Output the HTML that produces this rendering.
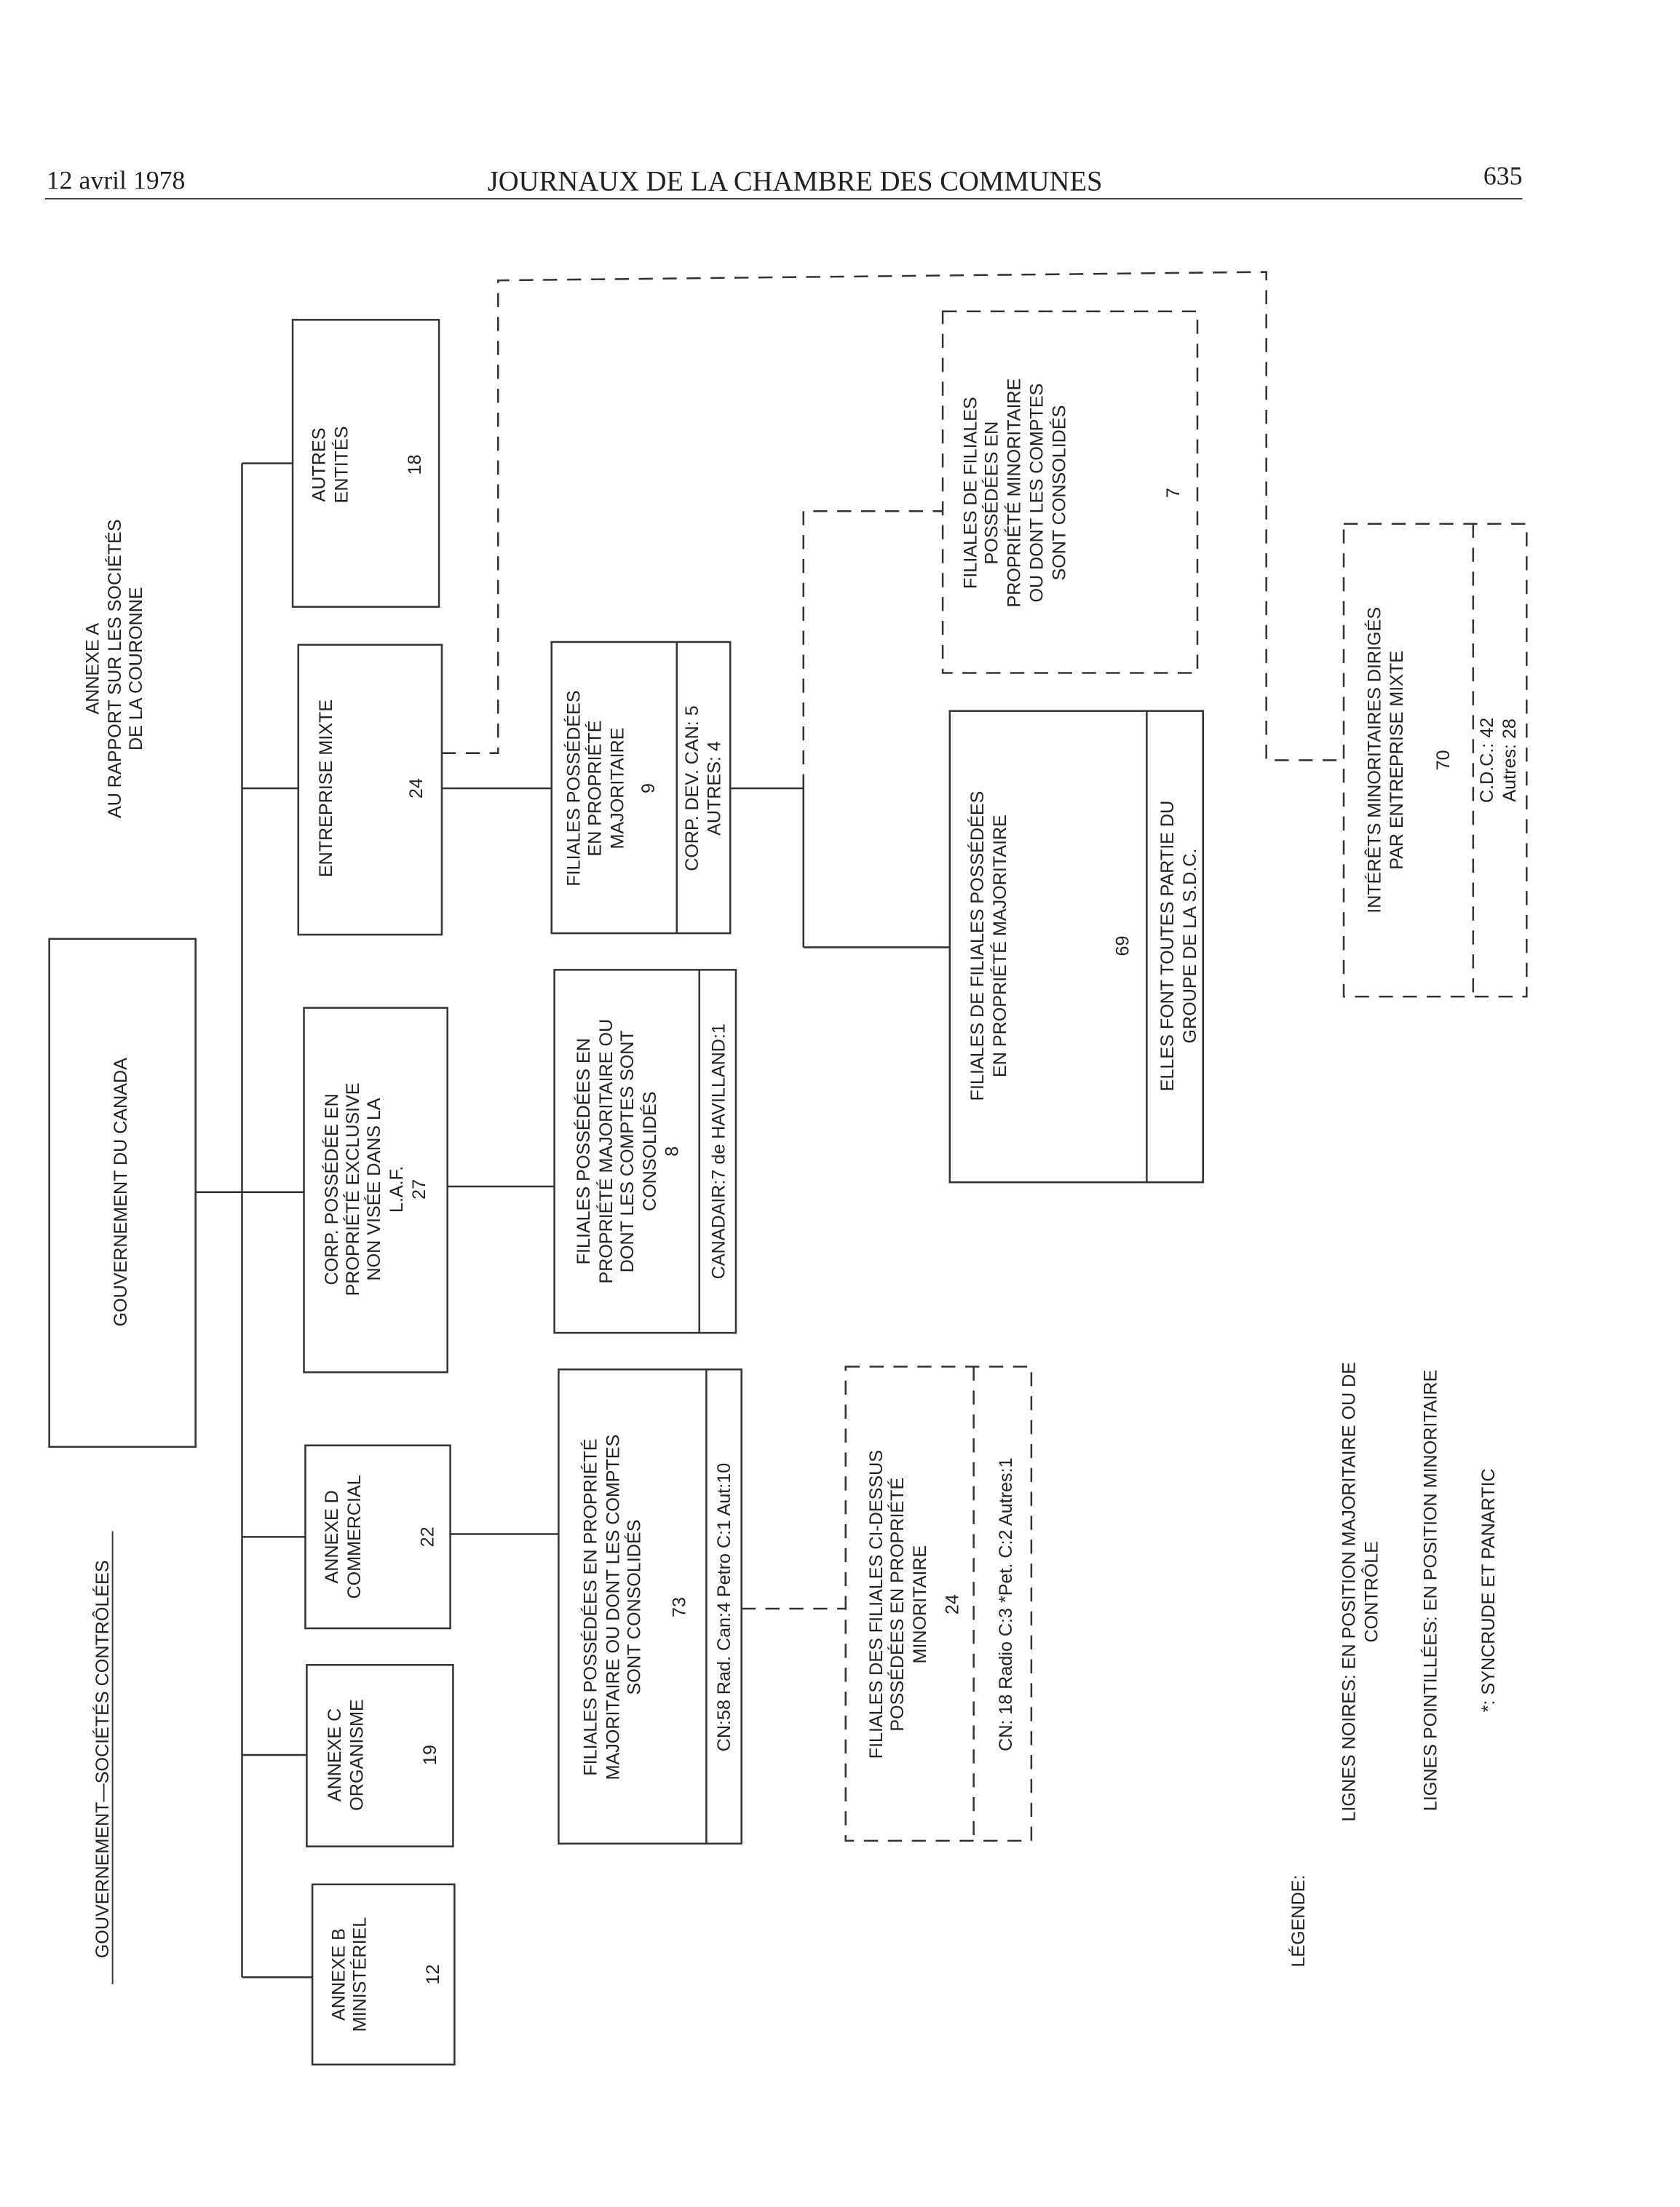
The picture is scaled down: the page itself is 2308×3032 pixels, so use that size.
<!DOCTYPE html>
<html><head><meta charset="utf-8"><style>
html,body{margin:0;padding:0;background:#fff}
svg{display:block}
text{font-family:"Liberation Sans",Arial,sans-serif;font-size:13px;fill:#222}
.s{font-family:"Liberation Serif",serif;font-size:18.5px}
.h{font-family:"Liberation Serif",serif;font-size:20px}
</style></head><body>
<svg width="2308" height="3032" viewBox="0 0 1194 1568" xmlns="http://www.w3.org/2000/svg">
<rect width="1194" height="1568" fill="#fff"/>
<text class="s" x="33" y="134">12 avril 1978</text>
<text class="h" x="565" y="135" text-anchor="middle">JOURNAUX DE LA CHAMBRE DES COMMUNES</text>
<text class="s" x="1082" y="131" text-anchor="end">635</text>
<line x1="32" y1="141" x2="1082" y2="141" stroke="#333" stroke-width="1"/>

<g fill="none" stroke="#333" stroke-width="1.3">
<rect x="35" y="667" width="104" height="361"/>
<rect x="222" y="1339" width="101" height="128"/>
<rect x="218" y="1183" width="104" height="129"/>
<rect x="217" y="1027" width="103" height="130"/>
<rect x="216" y="716" width="102" height="259"/>
<rect x="212" y="458" width="102" height="206"/>
<rect x="208" y="227" width="104" height="204"/>
<rect x="397" y="973" width="130" height="337"/><line x1="502" y1="973" x2="502" y2="1310"/>
<rect x="394" y="689" width="129" height="258"/><line x1="497" y1="689" x2="497" y2="947"/>
<rect x="392" y="456" width="127" height="207"/><line x1="481" y1="456" x2="481" y2="663"/>
<rect x="675" y="505" width="180" height="335"/><line x1="815" y1="505" x2="815" y2="840"/>
<line x1="172" y1="329" x2="172" y2="1405"/>
<line x1="172" y1="329" x2="208" y2="329"/>
<line x1="172" y1="560" x2="212" y2="560"/>
<line x1="139" y1="847" x2="216" y2="847"/>
<line x1="172" y1="1092" x2="217" y2="1092"/>
<line x1="172" y1="1247" x2="218" y2="1247"/>
<line x1="172" y1="1405" x2="222" y2="1405"/>
<line x1="320" y1="1090" x2="397" y2="1090"/>
<line x1="318" y1="843" x2="394" y2="843"/>
<line x1="314" y1="560" x2="392" y2="560"/>
<line x1="519" y1="560" x2="571" y2="560"/>
<line x1="571" y1="560" x2="571" y2="673"/>
<line x1="571" y1="673" x2="675" y2="673"/>
<line x1="80" y1="1088" x2="80" y2="1410" stroke-width="1"/>
</g>
<g fill="none" stroke="#333" stroke-width="1.3" stroke-dasharray="10,7">
<rect x="601" y="971" width="132" height="337"/><line x1="692" y1="971" x2="692" y2="1308"/>
<rect x="670" y="221" width="181" height="257"/>
<rect x="955" y="372" width="130" height="336"/><line x1="1047" y1="372" x2="1047" y2="708"/>
<polyline points="314,535 354,535 354,199 900,193 900,540 955,540"/>
<polyline points="571,560 571,363 670,363"/>
<line x1="527" y1="1143" x2="601" y2="1143"/>
</g>

<g id="t">
<text transform="translate(90,847) rotate(-90)" text-anchor="middle">GOUVERNEMENT DU CANADA</text>
<text transform="translate(77,1250) rotate(-90)" text-anchor="middle">GOUVERNEMENT—SOCIÉTÉS CONTRÔLÉES</text>
<text transform="translate(70,475) rotate(-90)" text-anchor="middle">ANNEXE A</text>
<text transform="translate(86,475) rotate(-90)" text-anchor="middle">AU RAPPORT SUR LES SOCIÉTÉS</text>
<text transform="translate(101,475) rotate(-90)" text-anchor="middle">DE LA COURONNE</text>

<text transform="translate(245,1403) rotate(-90)" text-anchor="middle">ANNEXE B</text>
<text transform="translate(260,1403) rotate(-90)" text-anchor="middle">MINISTÉRIEL</text>
<text transform="translate(312,1403) rotate(-90)" text-anchor="middle">12</text>
<text transform="translate(242,1247) rotate(-90)" text-anchor="middle">ANNEXE C</text>
<text transform="translate(258,1247) rotate(-90)" text-anchor="middle">ORGANISME</text>
<text transform="translate(310,1247) rotate(-90)" text-anchor="middle">19</text>
<text transform="translate(240,1092) rotate(-90)" text-anchor="middle">ANNEXE D</text>
<text transform="translate(256,1092) rotate(-90)" text-anchor="middle">COMMERCIAL</text>
<text transform="translate(308,1092) rotate(-90)" text-anchor="middle">22</text>
<text transform="translate(240,845) rotate(-90)" text-anchor="middle">CORP. POSSÉDÉE EN</text>
<text transform="translate(255,845) rotate(-90)" text-anchor="middle">PROPRIÉTÉ EXCLUSIVE</text>
<text transform="translate(270,845) rotate(-90)" text-anchor="middle">NON VISÉE DANS LA</text>
<text transform="translate(286,845) rotate(-90)" text-anchor="middle">L.A.F.</text>
<text transform="translate(302,845) rotate(-90)" text-anchor="middle">27</text>
<text transform="translate(236,560) rotate(-90)" text-anchor="middle">ENTREPRISE MIXTE</text>
<text transform="translate(300,560) rotate(-90)" text-anchor="middle">24</text>
<text transform="translate(231,330) rotate(-90)" text-anchor="middle">AUTRES</text>
<text transform="translate(247,330) rotate(-90)" text-anchor="middle">ENTITÉS</text>
<text transform="translate(299,330) rotate(-90)" text-anchor="middle">18</text>

<text transform="translate(424,1142) rotate(-90)" text-anchor="middle">FILIALES POSSÉDÉES EN PROPRIÉTÉ</text>
<text transform="translate(440,1142) rotate(-90)" text-anchor="middle">MAJORITAIRE OU DONT LES COMPTES</text>
<text transform="translate(455,1142) rotate(-90)" text-anchor="middle">SONT CONSOLIDÉS</text>
<text transform="translate(487,1142) rotate(-90)" text-anchor="middle">73</text>
<text transform="translate(519,1142) rotate(-90)" text-anchor="middle">CN:58 Rad. Can:4 Petro C:1 Aut:10</text>

<text transform="translate(419,818) rotate(-90)" text-anchor="middle">FILIALES POSSÉDÉES EN</text>
<text transform="translate(435,818) rotate(-90)" text-anchor="middle">PROPRIÉTÉ MAJORITAIRE OU</text>
<text transform="translate(450,818) rotate(-90)" text-anchor="middle">DONT LES COMPTES SONT</text>
<text transform="translate(466,818) rotate(-90)" text-anchor="middle">CONSOLIDÉS</text>
<text transform="translate(482,818) rotate(-90)" text-anchor="middle">8</text>
<text transform="translate(515,818) rotate(-90)" text-anchor="middle">CANADAIR:7 de HAVILLAND:1</text>

<text transform="translate(412,560) rotate(-90)" text-anchor="middle">FILIALES POSSÉDÉES</text>
<text transform="translate(427,560) rotate(-90)" text-anchor="middle">EN PROPRIÉTÉ</text>
<text transform="translate(443,560) rotate(-90)" text-anchor="middle">MAJORITAIRE</text>
<text transform="translate(465,560) rotate(-90)" text-anchor="middle">9</text>
<text transform="translate(496,560) rotate(-90)" text-anchor="middle">CORP. DEV. CAN: 5</text>
<text transform="translate(512,560) rotate(-90)" text-anchor="middle">AUTRES: 4</text>

<text transform="translate(627,1140) rotate(-90)" text-anchor="middle">FILIALES DES FILIALES CI-DESSUS</text>
<text transform="translate(642,1140) rotate(-90)" text-anchor="middle">POSSÉDÉES EN PROPRIÉTÉ</text>
<text transform="translate(658,1140) rotate(-90)" text-anchor="middle">MINORITAIRE</text>
<text transform="translate(681,1140) rotate(-90)" text-anchor="middle">24</text>
<text transform="translate(719,1140) rotate(-90)" text-anchor="middle">CN: 18 Radio C:3 *Pet. C:2 Autres:1</text>

<text transform="translate(699,672) rotate(-90)" text-anchor="middle">FILIALES DE FILIALES POSSÉDÉES</text>
<text transform="translate(715,672) rotate(-90)" text-anchor="middle">EN PROPRIÉTÉ MAJORITAIRE</text>
<text transform="translate(802,672) rotate(-90)" text-anchor="middle">69</text>
<text transform="translate(834,672) rotate(-90)" text-anchor="middle">ELLES FONT TOUTES PARTIE DU</text>
<text transform="translate(850,672) rotate(-90)" text-anchor="middle">GROUPE DE LA S.D.C.</text>

<text transform="translate(694,350) rotate(-90)" text-anchor="middle">FILIALES DE FILIALES</text>
<text transform="translate(709,350) rotate(-90)" text-anchor="middle">POSSÉDÉES EN</text>
<text transform="translate(725,350) rotate(-90)" text-anchor="middle">PROPRIÉTÉ MINORITAIRE</text>
<text transform="translate(741,350) rotate(-90)" text-anchor="middle">OU DONT LES COMPTES</text>
<text transform="translate(757,350) rotate(-90)" text-anchor="middle">SONT CONSOLIDÉS</text>
<text transform="translate(838,350) rotate(-90)" text-anchor="middle">7</text>

<text transform="translate(981,540) rotate(-90)" text-anchor="middle">INTÉRÊTS MINORITAIRES DIRIGÉS</text>
<text transform="translate(997,540) rotate(-90)" text-anchor="middle">PAR ENTREPRISE MIXTE</text>
<text transform="translate(1030,540) rotate(-90)" text-anchor="middle">70</text>
<text transform="translate(1061,540) rotate(-90)" text-anchor="middle">C.D.C.: 42</text>
<text transform="translate(1077,540) rotate(-90)" text-anchor="middle">Autres: 28</text>

<text transform="translate(927,1365) rotate(-90)" text-anchor="middle">LÉGENDE:</text>
<text transform="translate(963,1131) rotate(-90)" text-anchor="middle">LIGNES NOIRES: EN POSITION MAJORITAIRE OU DE</text>
<text transform="translate(979,1131) rotate(-90)" text-anchor="middle">CONTRÔLE</text>
<text transform="translate(1021,1130) rotate(-90)" text-anchor="middle">LIGNES POINTILLÉES: EN POSITION MINORITAIRE</text>
<text transform="translate(1062,1130) rotate(-90)" text-anchor="middle">*: SYNCRUDE ET PANARTIC</text>
</g>
</svg>
</body></html>
